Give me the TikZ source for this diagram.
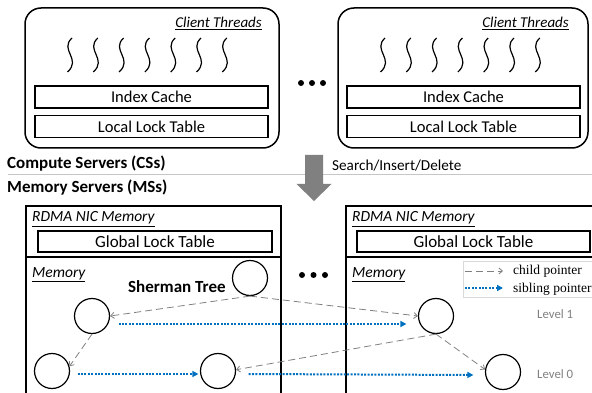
\documentclass[tikz,border=0pt]{standalone}
\usepackage{fontspec}
\setmainfont{Carlito}
\newfontfamily\legendfont{Liberation Serif}
\usetikzlibrary{arrows.meta}
\definecolor{sblue}{RGB}{0,112,192}
\definecolor{dgrey}{RGB}{128,128,128}
\definecolor{lgrey}{RGB}{128,128,128}
\begin{document}
\begin{tikzpicture}[x=1pt,y=-1pt,
  cbox/.style={draw, line width=1.5pt, rounded corners=16pt, minimum height=140pt, inner sep=0pt},
  ibox/.style={draw, line width=1.4pt, minimum width=233pt, minimum height=22pt, inner sep=0pt, font=\fontsize{16.5}{18}\selectfont},
  gbox/.style={draw, line width=1.9pt, minimum width=234pt, minimum height=21pt, inner sep=0pt, font=\fontsize{17}{19}\selectfont},
  msbox/.style={draw, line width=2.2pt, minimum height=230pt, inner sep=0pt, anchor=north west},
  tnode/.style={circle, draw, line width=1.2pt, minimum size=35pt, inner sep=0pt},
  lbl/.style={inner sep=0pt},
  itl/.style={lbl, anchor=base west, font=\fontsize{15.5}{17}\selectfont\itshape},
  bld/.style={lbl, anchor=base west, font=\fontsize{17}{19}\selectfont\bfseries},
  lvl/.style={lbl, anchor=base west, text=lgrey, font=\fontsize{12.8}{14}\selectfont},
  legtxt/.style={lbl, anchor=base west, font=\fontsize{13.5}{15}\legendfont},
  childptr/.style={draw=dgrey, line width=0.8pt, dash pattern=on 7pt off 4pt, -{Straight Barb[length=3.5pt,width=6pt]}},
  sibptr/.style={draw=sblue, line width=2pt, dash pattern=on 2pt off 1.4pt, -{Triangle[length=6pt,width=6pt]}},
  squig/.style={line width=1.2pt},
  dotmark/.style={circle, fill=black, inner sep=0pt, minimum size=6pt}
]
\useasboundingbox (0,0) rectangle (592,393);
\clip (0,0) rectangle (592,393);

% ---- compute servers ----
\node[cbox, minimum width=254pt] (cs1) at (152,78) {};
\node[cbox, minimum width=250pt] (cs2) at (463,78) {};
\node[ibox] (ic1) at (151.5,97) {Index Cache};
\node[ibox] (llt1) at (151.5,126.5) {Local Lock Table};
\node[ibox] (ic2) at (463.5,97) {Index Cache};
\node[ibox] (llt2) at (463.5,126.5) {Local Lock Table};
\node[lbl, anchor=base east, font=\fontsize{15}{17}\selectfont\itshape] (ct1) at (262,28) {\underline{Client Threads}};
\node[lbl, anchor=base east, font=\fontsize{15}{17}\selectfont\itshape] (ct2) at (569,28) {\underline{Client Threads}};
\foreach \x in {70,95.8,121.6,147.4,173.2,199,224.8} {
  \draw[squig] (\x+2,38) .. controls (\x-11,50) and (\x+12,59) .. (\x-2.5,72);
  \draw[squig] (\x+315,38) .. controls (\x+302,50) and (\x+325,59) .. (\x+310.5,72);
}
\node[dotmark] (td1) at (301,83) {};
\node[dotmark] (td2) at (312,83) {};
\node[dotmark] (td3) at (323,83) {};

% ---- separator ----
\node[bld] (cslbl) at (7,168) {Compute Servers (CSs)};
\node[bld] (mslbl) at (7,193) {Memory Servers (MSs)};
\draw[gray!45, line width=0.8pt] (8,174) -- (592,174);
\node[lbl, anchor=base west, font=\fontsize{15.2}{17}\selectfont] (sid) at (332,171) {Search/Insert/Delete};
\fill[dgrey] (305,155) -- (323,155) -- (323,184) -- (331.5,184) -- (314,201) -- (296.5,184) -- (305,184) -- cycle;

% ---- memory servers ----
\node[msbox, minimum width=255pt] (ms1) at (25,205) {};
\node[msbox, minimum width=265pt] (ms2) at (345,205) {};
\draw[line width=2.2pt] (25,257) -- (280,257);
\draw[line width=2.2pt] (345,257) -- (610,257);
\node[itl] (rdma1) at (32,222) {\underline{RDMA NIC Memory}};
\node[itl] (rdma2) at (352,222) {\underline{RDMA NIC Memory}};
\node[gbox] (glt1) at (155,241.5) {Global Lock Table};
\node[gbox, minimum width=233pt] (glt2) at (473.5,241.5) {Global Lock Table};
\node[itl] (mem1) at (32,277) {\underline{Memory}};
\node[itl] (mem2) at (352,277) {\underline{Memory}};
\node[bld] (st) at (128,292) {Sherman Tree};
\node[dotmark] (md1) at (302,275) {};
\node[dotmark] (md2) at (313.5,275) {};
\node[dotmark] (md3) at (325,275) {};

% ---- legend ----
\node[draw=gray!30, fill=white, line width=0.6pt, minimum width=140pt, minimum height=36pt, anchor=north west, inner sep=0pt] (leg) at (463,261) {};
\coordinate (lc1) at (465,271);
\coordinate (lc2) at (503,271);
\coordinate (ls1) at (465,288);
\coordinate (ls2) at (503,288);
\draw[childptr] (lc1) -- (lc2);
\draw[sibptr] (ls1) -- (ls2);
\node[legtxt] (lct) at (513,274.5) {child pointer};
\node[legtxt] (lst) at (513,292) {sibling pointer};

% ---- tree ----
\node[tnode] (root) at (250,278) {};
\node[tnode] (l1a) at (92,316) {};
\node[tnode] (l1b) at (436,316) {};
\node[tnode] (l0a) at (52,371) {};
\node[tnode] (l0m) at (218,371) {};
\node[tnode] (l0b) at (503,372) {};
\node[lvl] (lv1) at (537,318) {Level 1};
\node[lvl] (lv0) at (537,378) {Level 0};

\draw[childptr] (root.south) -- (l1a.east);
\draw[childptr] (root.south) -- (l1b.west);
\draw[childptr] (l1a.south) -- (l0a.15);
\draw[childptr] (l1b.south) -- (l0m.4);
\draw[childptr] (l1b.south) -- (l0b.172);

\draw[sibptr] ([xshift=8.5pt,yshift=-8pt]l1a.east) -- ([xshift=-11.5pt,yshift=-8pt]l1b.west);
\draw[sibptr] ([xshift=7.5pt,yshift=-3pt]l0a.east) -- ([xshift=-1.5pt,yshift=-3pt]l0m.west);
\draw[sibptr] ([xshift=12.5pt,yshift=-3pt]l0m.east) -- ([xshift=-11.5pt,yshift=-3pt]l0b.west);
\end{tikzpicture}
\end{document}
